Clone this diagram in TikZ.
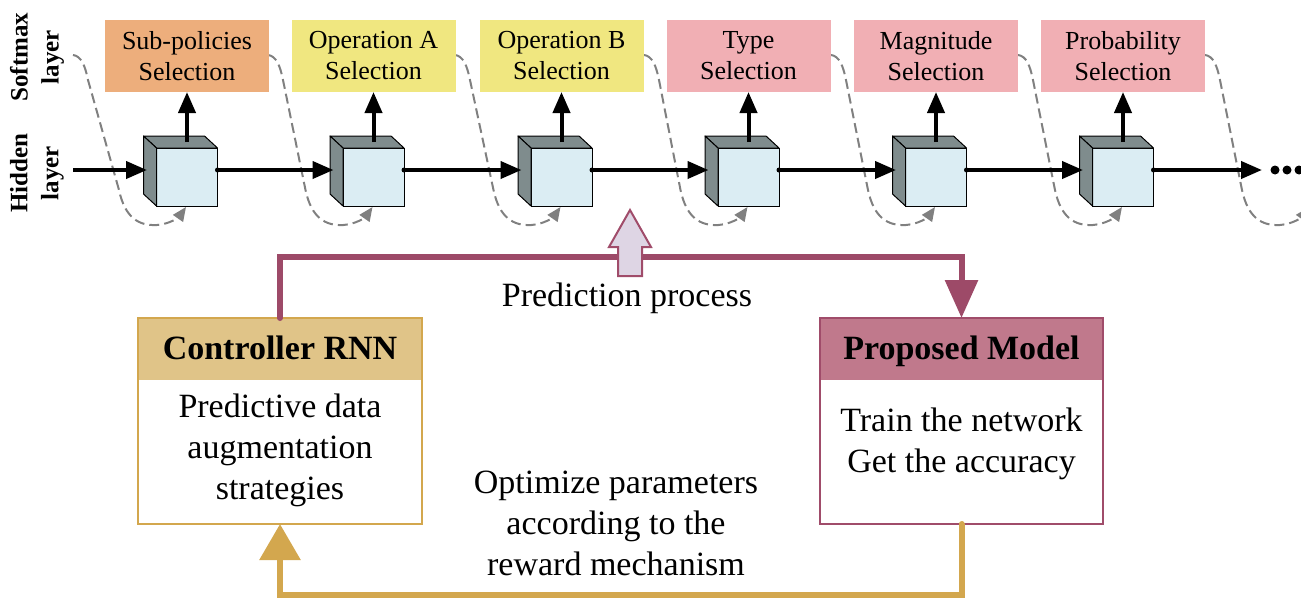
\documentclass[tikz,border=0pt]{standalone}
\usepackage{fontspec}
\setmainfont{Liberation Serif}
\usetikzlibrary{arrows.meta}
\definecolor{orangebox}{RGB}{237,174,124}
\definecolor{yellowbox}{RGB}{240,231,128}
\definecolor{pinkbox}{RGB}{241,175,180}
\definecolor{cubeblue}{RGB}{219,237,243}
\definecolor{cubegray}{RGB}{127,140,141}
\definecolor{dgray}{RGB}{128,128,128}
\definecolor{pline}{RGB}{157,74,104}
\definecolor{prophead}{RGB}{192,121,140}
\definecolor{propborder}{RGB}{160,76,106}
\definecolor{goldc}{RGB}{211,167,78}
\definecolor{ctrlhead}{RGB}{224,196,136}
\definecolor{lavender}{RGB}{222,213,228}
\begin{document}
\begin{tikzpicture}[x=1pt,y=-1pt,
  smbox/.style={minimum width=164pt,minimum height=72pt,inner sep=0pt,outer sep=0pt,align=center,font=\fontsize{26}{31}\selectfont},
  cubeface/.style={draw=black,line width=1pt,fill=cubeblue,minimum width=61pt,minimum height=58pt,inner sep=0pt,outer sep=0pt},
  panel/.style={draw=black,line width=1pt,fill=cubegray,line join=round},
  harrow/.style={line width=4pt,-{Triangle[length=21pt,width=17pt]}},
  uarrow/.style={line width=4pt,-{Triangle[length=21pt,width=17pt]}},
  dasharrow/.style={draw=dgray,line width=2pt,dash pattern=on 10pt off 5pt,-{Triangle[length=14pt,width=12pt]}},
  sidelabel/.style={rotate=90,align=center,font=\fontsize{25}{31}\selectfont\bfseries},
  bigtext/.style={align=center,font=\fontsize{34}{41}\selectfont},
  headtext/.style={font=\fontsize{34}{41}\selectfont\bfseries,text height=25pt,text depth=6pt},
  bigbox/.style={line width=2pt,fill=white,minimum width=284pt,minimum height=206pt,inner sep=0pt,outer sep=0pt},
  purpleconn/.style={draw=pline,line width=6pt,line cap=round,-{Triangle[length=38pt,width=32pt]}},
  goldconn/.style={draw=goldc,line width=6pt,line cap=round,-{Triangle[length=36pt,width=40pt]}}
]
\useasboundingbox (0,0) rectangle (1301,600);
\clip (0,0) rectangle (1301,600);

% side labels
\node[sidelabel] (softl) at (37,57) {Softmax\\layer};
\node[sidelabel] (hidl) at (37,173) {Hidden\\layer};

% dashed recurrent curves
\foreach \cx/\sx in {187/73,373.5/268,561.5/455,748.5/644,936/831,1123/1018,1310/1205}{
  \draw[dasharrow] (\sx,55) .. controls (\sx+8,56) and (\sx+12,65) .. (\sx+15,80)
     -- (\cx-68,190) .. controls (\cx-62,218) and (\cx-48,226) .. (\cx-30,225)
     .. controls (\cx-17,224) and (\cx-8,217) .. (\cx-1,207);
}

% softmax boxes and cubes
\foreach \i/\cx/\lab/\col in {1/187/{Sub-policies\\Selection}/orangebox,
  2/373.5/{Operation A\\Selection}/yellowbox,
  3/561.5/{Operation B\\Selection}/yellowbox,
  4/748.5/{Type\\Selection}/pinkbox,
  5/936/{Magnitude\\Selection}/pinkbox,
  6/1123/{Probability\\Selection}/pinkbox}{
  \node[smbox,fill=\col] (s\i) at (\cx,56) {\lab};
  \node[cubeface] (c\i) at (\cx,177) {};
  \draw[panel] (c\i.north west) -- ++(-13,-12) -- ++(61,0) -- (c\i.north east) -- cycle;
  \draw[panel] (c\i.north west) -- ++(-13,-12) -- ++(0,58) -- (c\i.south west) -- cycle;
  \coordinate (o\i) at (\cx+30.5,170);
  \coordinate (in\i) at (\cx-40,170);
  \coordinate (t\i) at (\cx,142);
  \draw[uarrow] (t\i) -- (s\i.south);
  \fill (o\i) circle (2.5);
}

% hidden-layer chain
\coordinate (startp) at (73,170);
\coordinate (endp) at (1262,170);
\draw[harrow] (startp) -- (in1);
\foreach \i/\j in {1/2,2/3,3/4,4/5,5/6}{
  \draw[harrow] (o\i) -- (in\j);
}
\draw[harrow] (o6) -- (endp);
\foreach \dx in {1275,1287,1299}{
  \fill (\dx,170) circle (4.5);
}

% controller box
\node[bigbox,draw=goldc] (ctrl) at (280,421) {};
\node[fill=ctrlhead,minimum width=282pt,minimum height=61pt,inner sep=0pt,outer sep=0pt,anchor=north,headtext] (ctrlh) at ([yshift=-1pt]ctrl.north) {Controller RNN};
\node[bigtext] (ctrlt) at (280,450) {Predictive data\\augmentation\\strategies};

% proposed model box
\node[bigbox,draw=propborder,minimum width=283pt] (prop) at (961.5,421) {};
\node[fill=prophead,minimum width=281pt,minimum height=61pt,inner sep=0pt,outer sep=0pt,anchor=north,headtext] (proph) at ([yshift=-1pt]prop.north) {Proposed Model};
\node[bigtext] (propt) at (961.5,444) {Train the network\\Get the accuracy};

% loop connectors
\draw[purpleconn] (ctrl.north) -- ++(0,-61) -| (prop.north);
\draw[goldconn] (prop.south) -- ++(0,71) -| (ctrl.south);

% prediction block arrow
\draw[draw=propborder,fill=lavender,line width=2pt,line join=miter]
  (630,210) -- (651,247) -- (642,247) -- (642,276) -- (618,276) -- (618,247) -- (609,247) -- cycle;

\node[bigtext] (predt) at (627,298) {Prediction process};
\node[bigtext] (optt) at (616,523) {Optimize parameters\\according to the\\reward mechanism};
\end{tikzpicture}
\end{document}
